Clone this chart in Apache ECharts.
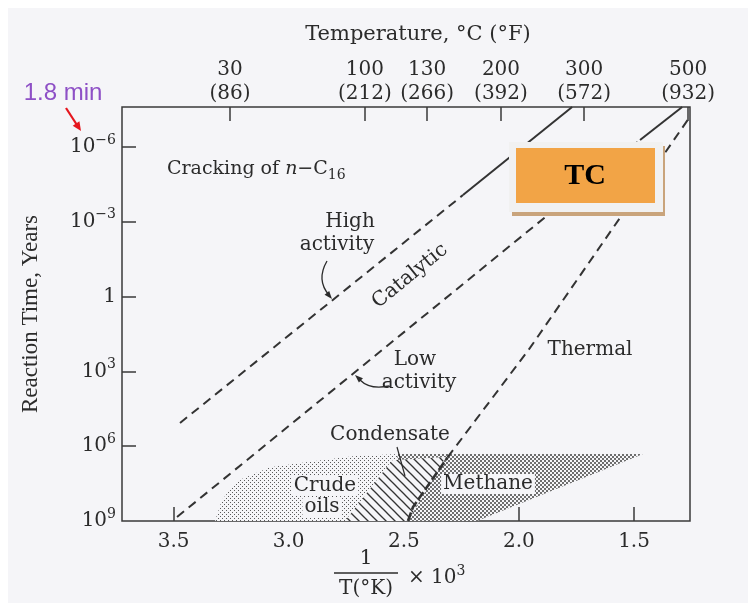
<!DOCTYPE html>
<html>
<head>
<meta charset="utf-8">
<script src="https://cdn.jsdelivr.net/npm/echarts@6/dist/echarts.min.js"></script>
<style>
html, body { margin: 0; padding: 0; background: #fff; }
#chart { width: 748px; height: 603px; }
</style>
</head>
<body>
<div id="chart"></div>
<script>
// x = 1000 / T(K), y = log10(reaction time in years)
var xTicks = [3.5, 3.0, 2.5, 2.0, 1.5];
var yTicks = [-6, -3, 0, 3, 6, 9];
var tempTickPos = [3.255, 2.669, 2.399, 2.078, 1.717, 1.265];
var tempLabels = ['30\n(86)', '100\n(212)', '130\n(266)', '200\n(392)', '300\n(572)', '500\n(932)'];

// catalytic / thermal cracking lines (dashed part then solid part)
var highActivity = [[3.472, 5.07], [2.243, -4.07], [1.769, -7.6]];
var lowActivity = [[3.485, 8.84], [1.474, -6.28], [1.291, -7.6]];
var thermal = [[2.482, 9.0], [2.460, 8.44], [2.31, 6.45], [1.952, 2.06], [1.261, -7.16]];

// shaded zones
var crudeOils = [[3.320, 9.0], [3.290, 8.16], [3.225, 7.40], [3.081, 6.84], [2.894, 6.60], [2.712, 6.39], [2.517, 6.31], [2.60, 9.0]];
var methane = [[2.582, 9.0], [2.525, 6.31], [1.461, 6.31], [2.182, 9.0]];
var condensate = [[2.755, 9.0], [2.551, 6.56], [2.317, 6.43], [2.482, 9.0]];

var serif = 'DejaVu Serif';
var ink = '#2b2b2b';
var paper = '#f5f5f8';

var chart = echarts.init(document.getElementById('chart'));

function pattern(size, draw) {
  var c = document.createElement('canvas');
  c.width = size; c.height = size;
  draw(c.getContext('2d'), size);
  return { image: c, repeat: 'repeat' };
}
// halftone-like stipple: dots on a staggered grid
function stipple(size, dot, color) {
  return pattern(size, function (ctx, s) {
    ctx.fillStyle = paper; ctx.fillRect(0, 0, s, s);
    ctx.fillStyle = color;
    ctx.fillRect(0, 0, dot, dot);
    ctx.fillRect(s / 2, s / 2, dot, dot);
  });
}
var hatch = pattern(9, function (ctx, s) {
  ctx.fillStyle = paper; ctx.fillRect(0, 0, s, s);
  ctx.strokeStyle = '#333'; ctx.lineWidth = 1.3;
  [-s, 0, s].forEach(function (o) {
    ctx.beginPath(); ctx.moveTo(o - 1, -1); ctx.lineTo(o + s + 1, s + 1); ctx.stroke();
  });
});

function areaSeries(points, fill) {
  return {
    type: 'custom', data: points, z: 1, silent: true,
    renderItem: function (params, api) {
      if (params.dataIndex !== 0) return;
      return {
        type: 'polygon',
        shape: { points: points.map(function (p) { return api.coord(p); }) },
        style: { fill: fill, stroke: null }
      };
    }
  };
}
function lineSeries(data, width, dash) {
  return {
    type: 'line', data: data, symbol: 'none', silent: true, z: 3,
    lineStyle: { color: '#333', width: width, type: dash, cap: 'butt' }
  };
}
function txt(s, x, y, extra) {
  var style = { text: s, x: x, y: y, font: '20px "' + serif + '"', fill: ink, align: 'center', verticalAlign: 'middle' };
  for (var k in extra) style[k] = extra[k];
  return { type: 'text', z: 10, style: style };
}
function arrowHead(tip, from, len, half, color) {
  var dx = tip[0] - from[0], dy = tip[1] - from[1];
  var d = Math.sqrt(dx * dx + dy * dy); dx /= d; dy /= d;
  var bx = tip[0] - dx * len, by = tip[1] - dy * len;
  return {
    type: 'polygon', z: 10,
    shape: { points: [tip, [bx - dy * half, by + dx * half], [bx + dy * half, by - dx * half]] },
    style: { fill: color }
  };
}

var supRich = {
  b: { fontFamily: serif, fontSize: 20, color: ink, lineHeight: 28 },
  s: { fontFamily: serif, fontSize: 14, color: ink, verticalAlign: 'top' }
};
var tickStyle = { color: '#3a3a3a', width: 1.5 };

var option = {
  animation: false,
  backgroundColor: '#ffffff',
  grid: { left: 122, right: 58, top: 107, bottom: 82, show: true, borderColor: '#3a3a3a', borderWidth: 1.5 },
  xAxis: [{
    type: 'value', position: 'bottom', min: 1.257, max: 3.724, inverse: true,
    axisLine: { show: false, onZero: false }, splitLine: { show: false },
    axisTick: { show: true, inside: true, length: 14, customValues: xTicks, lineStyle: tickStyle },
    axisLabel: {
      customValues: xTicks, margin: 11, fontFamily: serif, fontSize: 20, color: ink,
      formatter: function (v) { return v.toFixed(1); }
    }
  }, {
    type: 'value', position: 'top', min: 1.257, max: 3.724, inverse: true,
    axisLine: { show: false, onZero: false }, splitLine: { show: false },
    axisTick: { show: true, inside: true, length: 14, customValues: tempTickPos, lineStyle: tickStyle },
    axisLabel: {
      customValues: tempTickPos, margin: 1, fontFamily: serif, fontSize: 20, color: ink, lineHeight: 24,
      formatter: function (v) {
        for (var i = 0; i < tempTickPos.length; i++) if (Math.abs(tempTickPos[i] - v) < 1e-6) return tempLabels[i];
        return '';
      }
    },
    name: 'Temperature, °C (°F)', nameLocation: 'middle', nameGap: 62,
    nameTextStyle: { fontFamily: serif, fontSize: 21, color: ink, padding: [0, 0, 0, 24] }
  }],
  yAxis: {
    type: 'value', position: 'left', min: -7.6, max: 9, inverse: true,
    axisLine: { show: false, onZero: false }, splitLine: { show: false },
    axisTick: { show: true, inside: true, length: 14, customValues: [-6, -3, 0, 3, 6], lineStyle: tickStyle },
    axisLabel: {
      customValues: yTicks, margin: 6, rich: supRich,
      formatter: function (v) {
        if (v === 0) return '{b|1}';
        return '{b|10}{s|' + (v < 0 ? '\u2212' : '') + Math.abs(v) + '}';
      }
    },
    name: 'Reaction Time, Years', nameLocation: 'middle', nameGap: 80,
    nameTextStyle: { fontFamily: 'Liberation Serif', fontSize: 23, color: ink }
  },
  series: [
    areaSeries(crudeOils, stipple(4, 1, '#5a5a5a')),
    areaSeries(methane, stipple(4, 2, '#6e6e6e')),
    areaSeries(condensate, hatch),
    lineSeries(highActivity.slice(0, 2), 2, [9, 6]),
    lineSeries(highActivity.slice(1), 2, 'solid'),
    lineSeries(lowActivity.slice(0, 2), 2, [9, 6]),
    lineSeries(lowActivity.slice(1), 2, 'solid'),
    lineSeries(thermal.slice(0, 3), 2.6, [9, 3]),
    lineSeries(thermal.slice(2), 2, [9, 6])
  ],
  graphic: [
    { type: 'rect', z: -10, shape: { x: 8, y: 8, width: 740, height: 595 }, style: { fill: paper } },
    // annotation top-left
    { type: 'text', z: 10, style: { text: '1.8 min', x: 63, y: 93, font: '24px "Liberation Sans"', fill: '#8e50c6', align: 'center', verticalAlign: 'middle' } },
    { type: 'line', z: 10, shape: { x1: 66, y1: 108, x2: 77, y2: 125 }, style: { stroke: '#e5161e', lineWidth: 2.2 } },
    arrowHead([81, 131], [66, 108], 9, 4, '#e5161e'),
    // labels in plot
    txt('{a|Cracking of }{i|n}{a|\u2212C}{s|16}', 167, 169, {
      align: 'left',
      rich: {
        a: { fontFamily: serif, fontSize: 19, color: ink, lineHeight: 26 },
        i: { fontFamily: serif, fontSize: 19, fontStyle: 'italic', color: ink, lineHeight: 26 },
        s: { fontFamily: serif, fontSize: 14, color: ink, verticalAlign: 'bottom' }
      }
    }),
    txt('High', 350, 222),
    txt('activity', 337, 245),
    { type: 'bezierCurve', z: 10, shape: { x1: 327, y1: 261, cpx1: 316, cpy1: 280, x2: 329, y2: 295 }, style: { stroke: ink, lineWidth: 1.3, fill: null } },
    arrowHead([332, 299], [322, 287], 8, 3, ink),
    { type: 'text', z: 10, x: 410, y: 276, rotation: 39 * Math.PI / 180,
      style: { text: 'Catalytic', font: '20px "' + serif + '"', fill: ink, align: 'center', verticalAlign: 'middle' } },
    txt('Low', 415, 360),
    txt('activity', 419, 383),
    { type: 'bezierCurve', z: 10, shape: { x1: 389, y1: 386, cpx1: 370, cpy1: 390, x2: 360, y2: 380 }, style: { stroke: ink, lineWidth: 1.3, fill: null } },
    arrowHead([355, 375], [366, 385], 8, 3, ink),
    txt('Thermal', 590, 350),
    txt('Condensate', 390, 435),
    { type: 'line', z: 10, shape: { x1: 397, y1: 447, x2: 405, y2: 476 }, style: { stroke: ink, lineWidth: 1.2 } },
    txt('Crude', 325, 486, { backgroundColor: paper, padding: [0, 2] }),
    txt('oils', 322, 507, { backgroundColor: paper, padding: [0, 2] }),
    txt('Methane', 488, 484, { backgroundColor: paper, padding: [0, 2] }),
    // bottom axis title as a fraction
    txt('1', 366, 559),
    { type: 'line', z: 10, shape: { x1: 334, y1: 573, x2: 398, y2: 573 }, style: { stroke: ink, lineWidth: 1.3 } },
    txt('T(°K)', 366, 589),
    txt('{b|\u00d7 10}{s|3}', 408, 578, { align: 'left', rich: supRich }),
    // TC box
    { type: 'rect', z: 20, shape: { x: 512, y: 146, width: 153, height: 70 }, style: { fill: '#c9a47c' } },
    { type: 'rect', z: 21, shape: { x: 509, y: 142, width: 154, height: 70 }, style: { fill: '#f1f1f1' } },
    { type: 'rect', z: 22, shape: { x: 516, y: 148, width: 139, height: 55 }, style: { fill: '#f2a446' } },
    { type: 'text', z: 23, style: { text: 'TC', x: 585, y: 176, font: 'bold 30px "Liberation Serif"', fill: '#000', align: 'center', verticalAlign: 'middle' } }
  ]
};
chart.setOption(option);
</script>
</body>
</html>
